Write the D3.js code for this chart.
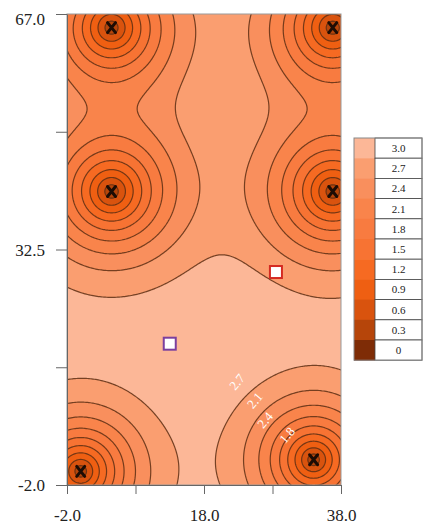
<!DOCTYPE html>
<html>
<head>
<meta charset="utf-8">
<script src="https://cdn.jsdelivr.net/npm/d3@7"></script>
<style>
  body { margin: 0; background: #fff; }
  text { font-family: "Liberation Serif", "DejaVu Serif", serif; }
</style>
</head>
<body>
<div class="canvas"></div>
<script>
// source points (the X marks); reach = relative spread
const sources = [
  { x: 4.5, y: 65, reach: 1.0 }, { x: 36.8, y: 65, reach: 1.0 },
  { x: 4.5, y: 41, reach: 1.03 }, { x: 36.8, y: 41, reach: 1.03 },
  { x: 0, y: 0, reach: 0.9 }, { x: 34, y: 1.7, reach: 0.9 }
];
// the two open squares
const squares = [
  { x: 28.5, y: 29.2 },
  { x: 13, y: 18.7 }
];
const squareColors = ['#d42a22', '#7b3f9e'];

// contour levels, legend labels bottom -> top
const levels = [0, 0.3, 0.6, 0.9, 1.2, 1.5, 1.8, 2.1, 2.4, 2.7, 3.0];
const levelLabels = ['0', '0.3', '0.6', '0.9', '1.2', '1.5', '1.8', '2.1', '2.4', '2.7', '3.0'];
const levelColors = ['#7e2c06', '#b6450a', '#d9530e', '#ef5f12', '#f66a22', '#f77333',
                     '#f87b40', '#f9844b', '#f98f5d', '#fa9e70', '#fcb797'];

// inline contour labels
const contourLabels = [
  { x: 22.8, y: 13.1, text: '2.7' },
  { x: 25.4, y: 10.4, text: '2.1' },
  { x: 26.9, y: 7.5, text: '2.4' },
  { x: 30.1, y: 5.3, text: '1.8' }
];

const xTicks = [-2, 8, 18, 28, 38];
const xTickLabels = ['-2.0', '', '18.0', '', '38.0'];
const yTicks = [67, 49.75, 32.5, 15.25, -2];
const yTickLabels = ['67.0', '', '32.5', '', '-2.0'];

const svg = d3.select('.canvas')
  .append('svg')
  .attr('width', 424)
  .attr('height', 525);

const plot = { left: 67, right: 341, top: 14, bottom: 485 };

const xs = d3.scaleLinear().domain([-2, 38]).range([plot.left, plot.right]);
const ys = d3.scaleLinear().domain([-2, 67]).range([plot.bottom, plot.top]);

// field: zero at each source, rising to ~3 far from all of them
const a = 0.109, b = 0.00308, A = 3;
function field(x, y) {
  let p = 1;
  sources.forEach(s => {
    const d = Math.hypot(x - s.x, y - s.y) / s.reach;
    p *= 1 - Math.exp(-(a * d + b * d * d));
  });
  return A * p;
}

// sample on a grid slightly larger than the plot, then clip
const step = 0.2, gx0 = -4, gx1 = 40, gy0 = -4, gy1 = 69;
const nx = Math.round((gx1 - gx0) / step) + 1;
const ny = Math.round((gy1 - gy0) / step) + 1;
const values = new Array(nx * ny);
for (let j = 0; j < ny; j++) {
  for (let i = 0; i < nx; i++) {
    values[j * nx + i] = field(gx0 + i * step, gy1 - j * step);
  }
}

const contours = d3.contours()
  .size([nx, ny])
  .thresholds(levels.slice(0, 10))(values);

const proj = d3.geoTransform({
  point(px, py) {
    this.stream.point(xs(gx0 + (px - 0.5) * step), ys(gy1 - (py - 0.5) * step));
  }
});
const path = d3.geoPath(proj);

svg.append('clipPath').attr('id', 'clip')
  .append('rect')
  .attr('x', plot.left).attr('y', plot.top)
  .attr('width', plot.right - plot.left).attr('height', plot.bottom - plot.top);

const g = svg.append('g').attr('clip-path', 'url(#clip)');

g.selectAll('path.fill')
  .data(contours)
  .join('path')
  .attr('class', 'fill')
  .attr('d', path)
  .attr('fill', (d, i) => levelColors[i + 1]);

g.selectAll('path.line')
  .data(contours.slice(1))
  .join('path')
  .attr('class', 'line')
  .attr('d', path)
  .attr('fill', 'none')
  .attr('stroke', '#5e2f14')
  .attr('stroke-opacity', 0.85)
  .attr('stroke-width', 1.2);

// X marks
const xm = g.selectAll('g.src')
  .data(sources)
  .join('g')
  .attr('class', 'src')
  .attr('transform', d => `translate(${xs(d.x)},${ys(d.y)})`);
xm.append('path')
  .attr('d', 'M-4,-5L4,5M4,-5L-4,5')
  .attr('stroke', '#1d0c04')
  .attr('stroke-width', 3)
  .attr('stroke-linecap', 'round');

// inline labels
g.selectAll('text.clab')
  .data(contourLabels)
  .join('text')
  .attr('class', 'clab')
  .attr('transform', d => `translate(${xs(d.x)},${ys(d.y)}) rotate(-50)`)
  .attr('text-anchor', 'middle')
  .attr('dy', '0.35em')
  .attr('font-size', 13)
  .attr('fill', '#fff')
  .text(d => d.text);

// squares
svg.selectAll('rect.sq')
  .data(squares)
  .join('rect')
  .attr('class', 'sq')
  .attr('x', d => xs(d.x) - 6)
  .attr('y', d => ys(d.y) - 6)
  .attr('width', 12).attr('height', 12)
  .attr('fill', '#fff')
  .attr('stroke', (d, i) => squareColors[i])
  .attr('stroke-width', 2);

// frame
svg.append('rect')
  .attr('x', plot.left).attr('y', plot.top)
  .attr('width', plot.right - plot.left).attr('height', plot.bottom - plot.top)
  .attr('fill', 'none')
  .attr('stroke', '#999');

// axes
const xAxis = svg.append('g')
  .attr('transform', `translate(0,${plot.bottom})`)
  .call(d3.axisBottom(xs).tickValues(xTicks)
    .tickFormat((d, i) => xTickLabels[i]).tickSize(9).tickSizeOuter(0).tickPadding(15));
const yAxis = svg.append('g')
  .attr('transform', `translate(${plot.left},0)`)
  .call(d3.axisLeft(ys).tickValues(yTicks)
    .tickFormat((d, i) => yTickLabels[i]).tickSize(11).tickSizeOuter(0).tickPadding(11));

[xAxis, yAxis].forEach(a => {
  a.selectAll('path, line').attr('stroke', '#666');
  a.selectAll('text')
    .attr('font-family', '"Liberation Serif", serif')
    .attr('font-size', 17)
    .attr('fill', '#222');
});
yAxis.selectAll('text').attr('dy', (d, i) => i === 0 ? '0.6em' : '0.35em');

// legend
const legend = svg.append('g');
const rowH = 20.2, lgTop = 138, barX = 354, barW = 21, cellW = 47;
const rows = levelLabels.slice().reverse();
const rowColors = levelColors.slice().reverse();

legend.selectAll('rect.bar')
  .data(rowColors)
  .join('rect')
  .attr('class', 'bar')
  .attr('x', barX).attr('y', (d, i) => lgTop + i * rowH)
  .attr('width', barW).attr('height', rowH + 0.5)
  .attr('fill', d => d);

legend.selectAll('rect.cell')
  .data(rows)
  .join('rect')
  .attr('class', 'cell')
  .attr('x', barX + barW).attr('y', (d, i) => lgTop + i * rowH)
  .attr('width', cellW).attr('height', rowH)
  .attr('fill', '#fff')
  .attr('stroke', '#444')
  .attr('stroke-width', 0.8);

legend.selectAll('text')
  .data(rows)
  .join('text')
  .attr('x', barX + barW + cellW / 2)
  .attr('y', (d, i) => lgTop + i * rowH + rowH / 2)
  .attr('dy', '0.35em')
  .attr('text-anchor', 'middle')
  .attr('font-size', 11)
  .attr('fill', '#222')
  .text(d => d);

legend.append('rect')
  .attr('x', barX).attr('y', lgTop)
  .attr('width', barW + cellW).attr('height', rowH * rows.length)
  .attr('fill', 'none')
  .attr('stroke', '#888');
</script>
</body>
</html>
